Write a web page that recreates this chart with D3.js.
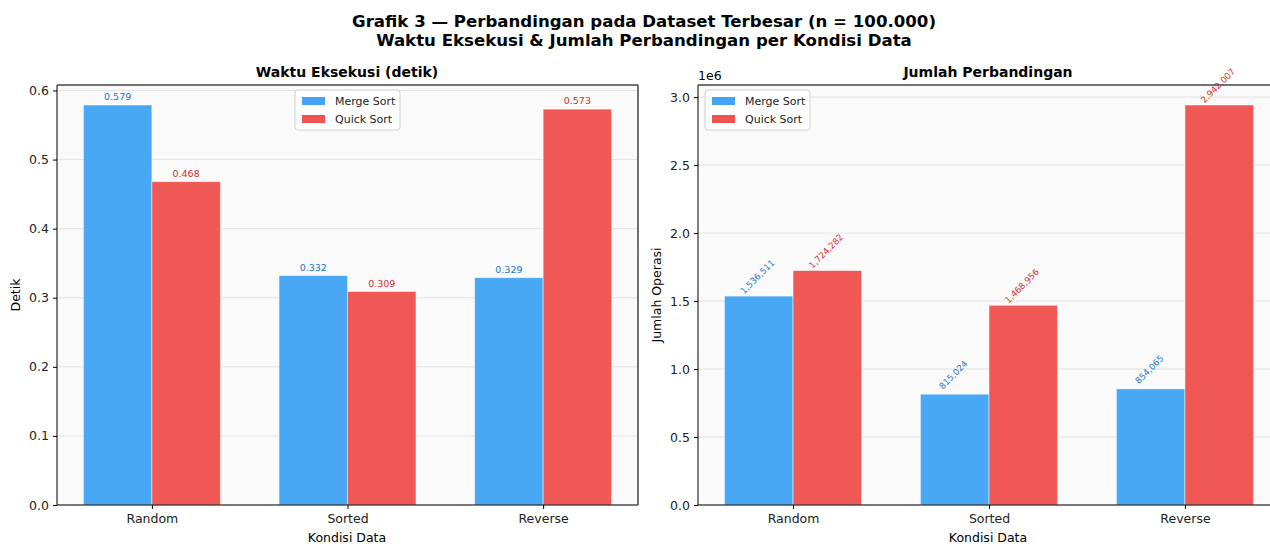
<!DOCTYPE html>
<html>
<head>
<meta charset="utf-8">
<script src="https://cdn.jsdelivr.net/npm/d3@7"></script>
<style>
  body { margin: 0; background: #fff; }
  svg { display: block; font-family: "DejaVu Sans", sans-serif; }
</style>
</head>
<body>
<div id="chart"></div>
<script>
const categories = ["Random", "Sorted", "Reverse"];
const series = ["Merge Sort", "Quick Sort"];
const timeMerge = [0.579, 0.332, 0.329];
const timeQuick = [0.468, 0.309, 0.573];
const cmpMerge = [1536511, 815024, 854065];
const cmpQuick = [1724282, 1468956, 2942007];
const timeTicks = [0, 0.1, 0.2, 0.3, 0.4, 0.5, 0.6];
const cmpTicks = [0, 0.5, 1.0, 1.5, 2.0, 2.5, 3.0];

const width = 1270, height = 544;
const barColors = ["#42A5F5", "#EF5350"];
const labelColors = ["#1976D2", "#D32F2F"];

const svg = d3.select("#chart")
    .append("svg")
    .attr("width", width)
    .attr("height", height);

svg.append("text")
    .attr("x", 644).attr("y", 27)
    .attr("text-anchor", "middle")
    .attr("font-size", 16.6).attr("font-weight", "bold")
    .text("Grafik 3 \u2014 Perbandingan pada Dataset Terbesar (n = 100.000)");
svg.append("text")
    .attr("x", 644).attr("y", 46)
    .attr("text-anchor", "middle")
    .attr("font-size", 16.6).attr("font-weight", "bold")
    .text("Waktu Eksekusi & Jumlah Perbandingan per Kondisi Data");

function panel(opts) {
  const {x0, x1, y0, y1} = opts;
  const g = svg.append("g");

  const xScale = d3.scaleLinear().domain([-0.485, 2.485]).range([x0, x1]);
  const yScale = d3.scaleLinear().domain([0, opts.yMax]).range([y1, y0]);

  g.append("rect")
    .attr("x", x0).attr("y", y0)
    .attr("width", x1 - x0).attr("height", y1 - y0)
    .attr("fill", "#fafafa");

  // grid
  g.selectAll(".grid")
    .data(opts.ticks)
    .enter()
    .append("line")
      .attr("x1", x0).attr("x2", x1)
      .attr("y1", d => yScale(d * opts.tickMul))
      .attr("y2", d => yScale(d * opts.tickMul))
      .attr("stroke", "#b0b0b0")
      .attr("stroke-opacity", 0.3)
      .attr("stroke-width", 1);

  const data = [];
  opts.values.forEach((vals, s) => {
    vals.forEach((v, i) => data.push({s: s, i: i, v: v}));
  });

  g.selectAll(".bar")
    .data(data)
    .enter()
    .append("rect")
      .attr("x", d => xScale(d.i - 0.35 + d.s * 0.35))
      .attr("width", d => xScale(0.35) - xScale(0))
      .attr("y", d => yScale(d.v))
      .attr("height", d => yScale(0) - yScale(d.v))
      .attr("fill", d => barColors[d.s])
      .attr("fill-opacity", 0.97)
      .attr("stroke", "#fff")
      .attr("stroke-opacity", 0.6)
      .attr("stroke-width", 0.8);

  // value labels
  const labels = g.selectAll(".val")
    .data(data)
    .enter()
    .append("text")
      .attr("fill", d => labelColors[d.s])
      .attr("font-size", opts.rotate ? 8.7 : 9.5)
      .text(d => opts.fmt(d.v));
  if (opts.rotate) {
    labels
      .attr("text-anchor", "middle")
      .attr("dominant-baseline", "middle")
      .attr("transform", d => {
        const cx = xScale(d.i - 0.175 + d.s * 0.35);
        return "translate(" + (cx - 1) + "," + (yScale(d.v) - 19) + ") rotate(-45)";
      });
  } else {
    labels
      .attr("text-anchor", "middle")
      .attr("x", d => xScale(d.i - 0.175 + d.s * 0.35))
      .attr("y", d => yScale(d.v) - 5);
  }

  // spines
  g.append("line").attr("x1", x0).attr("x2", x0).attr("y1", y0).attr("y2", y1)
    .attr("stroke", "#000").attr("stroke-width", 1);
  g.append("line").attr("x1", x0).attr("x2", x1).attr("y1", y1).attr("y2", y1)
    .attr("stroke", "#000").attr("stroke-width", 1);
  g.append("line").attr("x1", x0).attr("x2", x1).attr("y1", y0).attr("y2", y0)
    .attr("stroke", "#444").attr("stroke-width", 1.5);
  g.append("line").attr("x1", x1).attr("x2", x1).attr("y1", y0).attr("y2", y1)
    .attr("stroke", "#444").attr("stroke-width", 1.5);

  // y axis
  const yAxis = g.append("g")
    .attr("transform", "translate(" + x0 + ",0)")
    .call(d3.axisLeft(yScale)
      .tickValues(opts.ticks.map(t => t * opts.tickMul))
      .tickSize(4).tickPadding(4)
      .tickFormat(d => d3.format(".1f")(d / opts.tickMul)));
  yAxis.select(".domain").remove();
  yAxis.selectAll("text").attr("font-size", 12.5).attr("fill", "#222")
    .attr("font-family", "DejaVu Sans");

  // x axis
  const xAxis = g.append("g")
    .attr("transform", "translate(0," + y1 + ")")
    .call(d3.axisBottom(xScale)
      .tickValues([0, 1, 2])
      .tickSize(4).tickPadding(5)
      .tickFormat(i => categories[i]));
  xAxis.select(".domain").remove();
  xAxis.selectAll("text").attr("font-size", 12.5).attr("fill", "#222")
    .attr("font-family", "DejaVu Sans");

  g.append("text")
    .attr("x", opts.xLabelX)
    .attr("y", 542)
    .attr("text-anchor", "middle")
    .attr("font-size", 12.5)
    .text("Kondisi Data");

  g.append("text")
    .attr("transform", "translate(" + opts.yLabelX + "," + ((y0 + y1) / 2) + ") rotate(-90)")
    .attr("text-anchor", "middle")
    .attr("font-size", 12.5)
    .text(opts.yLabel);

  g.append("text")
    .attr("x", opts.titleX).attr("y", 77)
    .attr("text-anchor", "middle")
    .attr("font-size", 14).attr("font-weight", "bold")
    .text(opts.title);

  if (opts.offsetText) {
    g.append("text")
      .attr("x", x0).attr("y", 80)
      .attr("font-size", 12.5)
      .text(opts.offsetText);
  }

  // legend
  const lg = g.append("g").attr("transform", "translate(" + opts.legendX + "," + (y0 + 5) + ")");
  lg.append("rect")
    .attr("width", 105).attr("height", 40).attr("rx", 3)
    .attr("fill", "#fff").attr("fill-opacity", 0.85)
    .attr("stroke", "#d0d0d0");
  series.forEach((s, k) => {
    lg.append("rect")
      .attr("x", 7).attr("y", 7 + k * 18)
      .attr("width", 23).attr("height", 8)
      .attr("fill", barColors[k]);
    lg.append("text")
      .attr("x", 40).attr("y", 15 + k * 18)
      .attr("font-size", 11)
      .attr("fill", "#222")
      .text(s);
  });
}

panel({
  id: 1, x0: 57, x1: 638, y0: 85, y1: 505,
  yMax: 0.579 * 1.05, ticks: timeTicks, tickMul: 1,
  values: [timeMerge, timeQuick],
  fmt: d3.format(".3f"), rotate: false,
  title: "Waktu Eksekusi (detik)", titleX: 347,
  yLabel: "Detik", yLabelX: 20, xLabelX: 347,
  legendX: 295
});

panel({
  id: 2, x0: 698, x1: 1280, y0: 85, y1: 505,
  yMax: 2942007 * 1.05, ticks: cmpTicks, tickMul: 1e6,
  values: [cmpMerge, cmpQuick],
  fmt: d3.format(","), rotate: true,
  title: "Jumlah Perbandingan", titleX: 988,
  yLabel: "Jumlah Operasi", yLabelX: 661, xLabelX: 988,
  legendX: 705, offsetText: "1e6"
});
</script>
</body>
</html>
